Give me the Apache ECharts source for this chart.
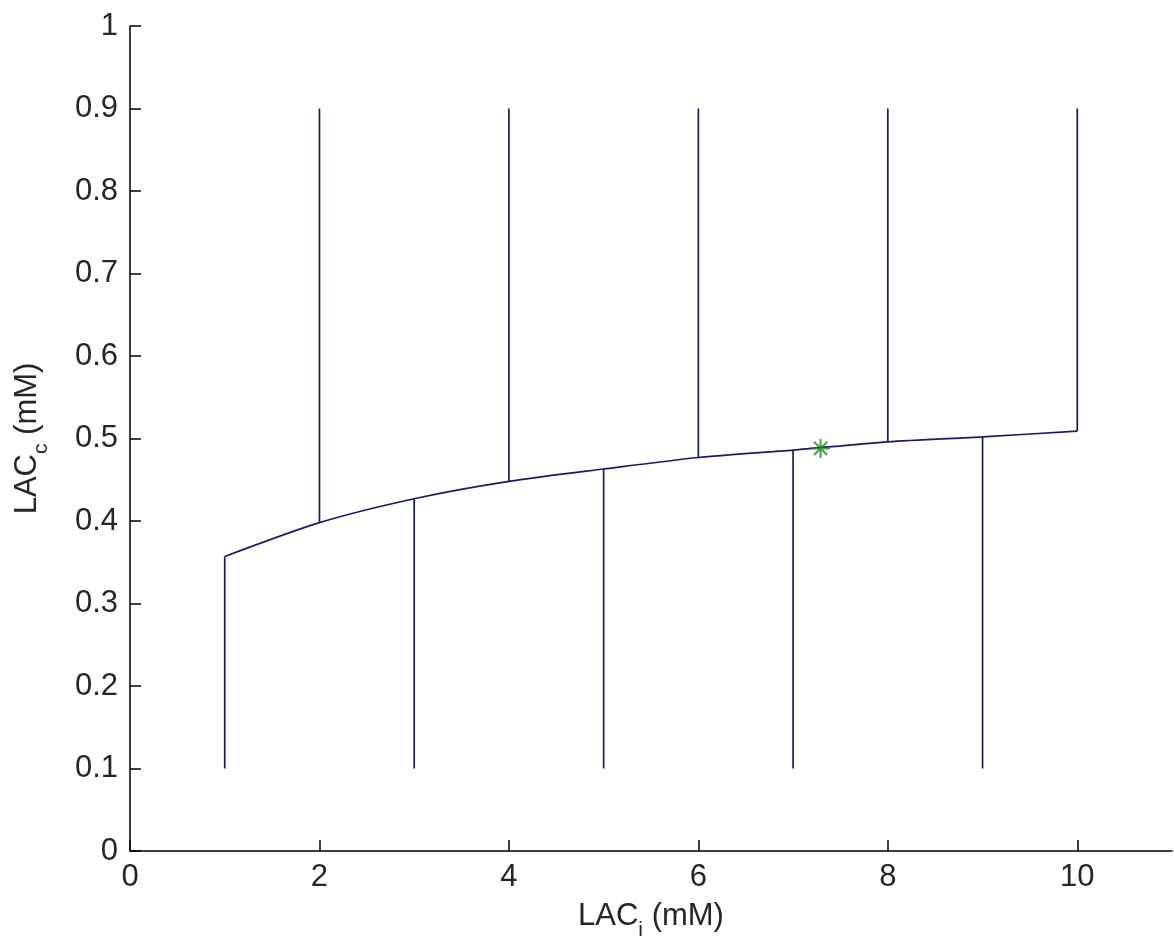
<!DOCTYPE html>
<html><head><meta charset="utf-8">
<script src="https://cdn.jsdelivr.net/npm/echarts@6/dist/echarts.min.js"></script>
<style>html,body{margin:0;padding:0;background:#fff}#c{width:1174px;height:948px}</style>
</head><body><div id="c"></div>
<script>
const xValues = [1, 2, 3, 4, 5, 6, 7, 8, 9, 10];
const curveValues = [0.357, 0.398, 0.427, 0.448, 0.463, 0.477, 0.486, 0.496, 0.502, 0.509];
const stemEnds = [0.1, 0.9, 0.1, 0.9, 0.1, 0.9, 0.1, 0.9, 0.1, 0.9];
const starPoint = [7.29, 0.488];
const xTicks = [0, 2, 4, 6, 8, 10];

const FONT = 'Liberation Sans, Arial, sans-serif';
const LINE = '#1a1a6b';
const TXT = '#262626';

const series = [];
series.push({
  type: 'line', data: xValues.map((x, i) => [x, curveValues[i]]),
  smooth: 0.25, showSymbol: false, lineStyle: { color: LINE, width: 1.7 }, silent: true, z: 3
});
xValues.forEach((x, i) => {
  series.push({
    type: 'line', data: [[x, stemEnds[i]], [x, curveValues[i]]],
    showSymbol: false, lineStyle: { color: LINE, width: 1.7 }, silent: true, z: 2
  });
});
series.push({
  type: 'scatter', data: [starPoint], symbol: 'path://M0,-10L0,10M-10,0L10,0M-7,-7L7,7M-7,7L7,-7',
  symbolSize: 19, itemStyle: { color: 'none', borderColor: '#1e8a1e', borderWidth: 2 }, z: 5
});

const richName = (main, sub, rest) => `{m|${main}}{s|${sub}}{m|${rest}}`;
const rich = {
  m: { fontSize: 31, fontFamily: FONT, color: TXT, lineHeight: 32, verticalAlign: 'top' },
  s: { fontSize: 21, fontFamily: FONT, color: TXT, lineHeight: 21, padding: [19, 0, 0, 0], verticalAlign: 'top' }
};

const chart = echarts.init(document.getElementById('c'), null, { renderer: 'canvas' });
chart.setOption({
  animation: false,
  backgroundColor: '#fff',
  grid: { left: 130, right: 2, top: 26, bottom: 97, containLabel: false },
  xAxis: {
    type: 'value', min: 0, max: 11, interval: 1,
    name: richName('LAC', 'i', ' (mM)'), nameLocation: 'middle', nameGap: 50,
    nameTextStyle: { rich },
    axisLine: { lineStyle: { color: '#000', width: 1.5 } },
    axisTick: { inside: true, length: 11, lineStyle: { color: '#000', width: 1.5 }, customValues: xTicks },
    axisLabel: { customValues: xTicks, fontSize: 31, fontFamily: FONT, color: TXT, margin: 11 },
    splitLine: { show: false }
  },
  yAxis: {
    type: 'value', min: 0, max: 1, interval: 0.1,
    name: richName('LAC', 'c', ' (mM)'), nameLocation: 'middle', nameGap: 86, nameRotate: 90,
    nameTextStyle: { rich },
    axisLine: { lineStyle: { color: '#000', width: 1.5 } },
    axisTick: { inside: true, length: 11, lineStyle: { color: '#000', width: 1.5 } },
    axisLabel: { fontSize: 31, fontFamily: FONT, color: TXT, margin: 12 },
    splitLine: { show: false }
  },
  series
});
</script></body></html>
